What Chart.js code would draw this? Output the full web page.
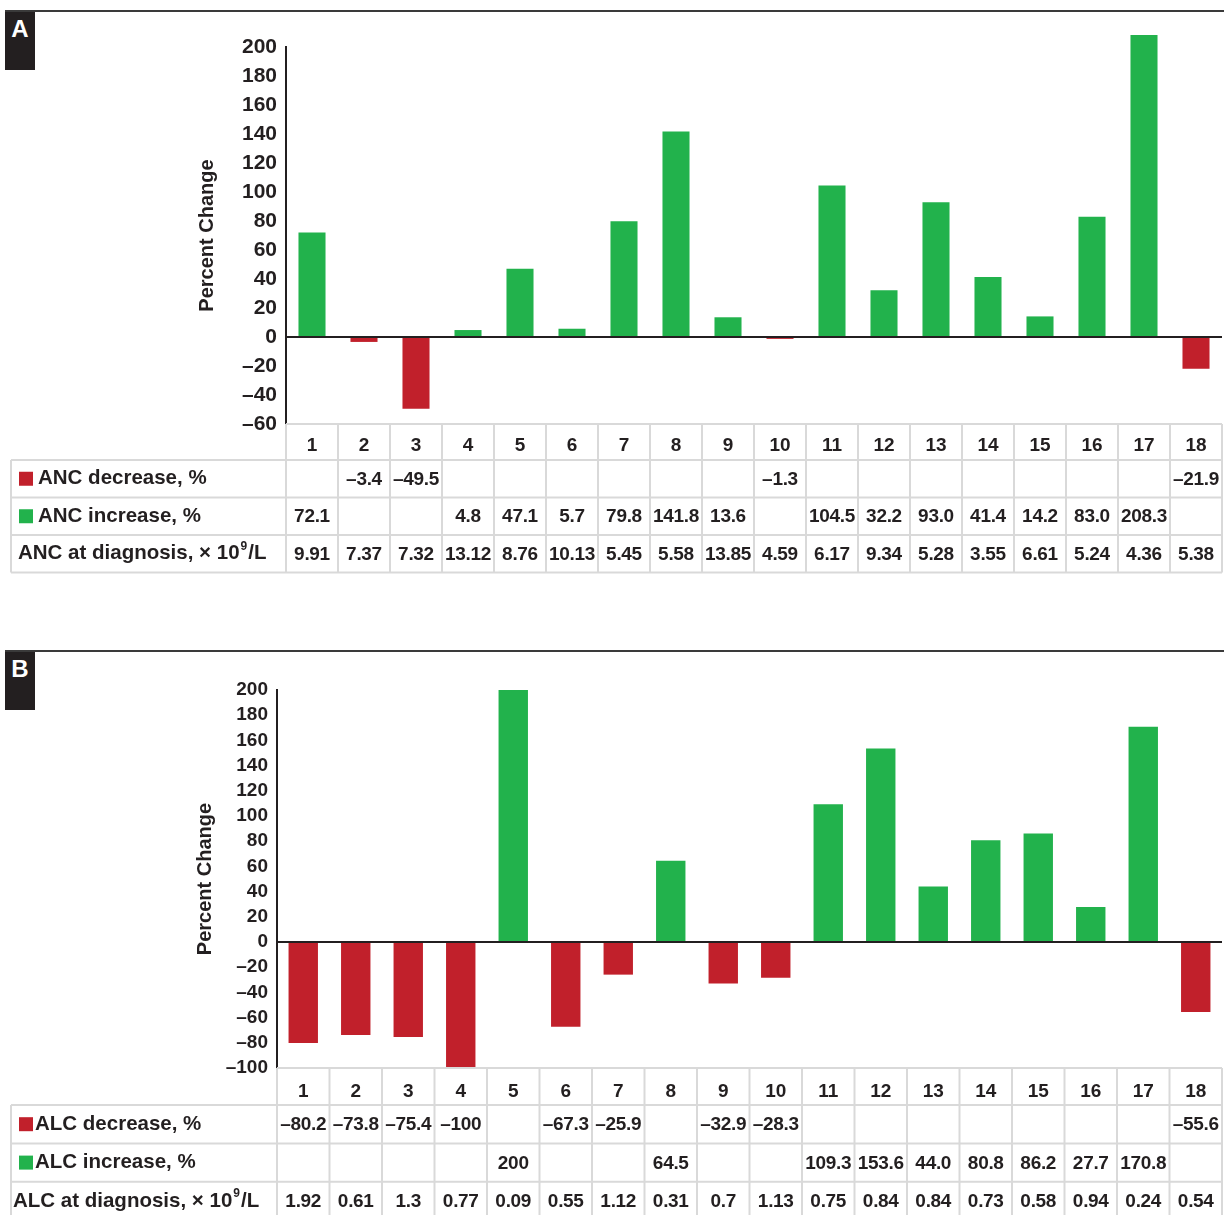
<!DOCTYPE html>
<html>
<head>
<meta charset="utf-8">
<script src="https://cdn.jsdelivr.net/npm/chart.js@4.4.1/dist/chart.umd.min.js"></script>
<style>
  body { margin: 0; background: #fff; }
  #page { position: relative; width: 1224px; height: 1215px; overflow: hidden; }
  .panel { position: absolute; left: 0; width: 1224px; }
  .panel canvas { display: block; }
  .rule { position: absolute; left: 5px; right: 0; height: 2px; background: #3a3a3a; }
  .tag { position: absolute; left: 5px; width: 30px; height: 58px; background: #231f20; color: #fff;
         font: 700 24px 'Liberation Sans', Arial, sans-serif; text-align: center; line-height: 34px; }
</style>
</head>
<body>
<div id="page">
  <div class="panel" style="top:0;height:640px"><canvas id="chartA" width="1224" height="640"></canvas></div>
  <div class="panel" style="top:640px;height:575px"><canvas id="chartB" width="1224" height="575"></canvas></div>
  <div class="rule" style="top:10px"></div>
  <div class="tag" style="top:12px">A</div>
  <div class="rule" style="top:650px"></div>
  <div class="tag" style="top:652px">B</div>
</div>

<script>
// patients 1..18
const patients = ['1', '2', '3', '4', '5', '6', '7', '8', '9', '10', '11', '12', '13', '14', '15', '16', '17', '18'];

// panel A: absolute neutrophil count
const ancDecrease = [null, -3.4, -49.5, null, null, null, null, null, null, -1.3, null, null, null, null, null, null, null, -21.9];
const ancIncrease = [72.1, null, null, 4.8, 47.1, 5.7, 79.8, 141.8, 13.6, null, 104.5, 32.2, 93.0, 41.4, 14.2, 83.0, 208.3, null];
const ancAtDiagnosis = ['9.91', '7.37', '7.32', '13.12', '8.76', '10.13', '5.45', '5.58', '13.85', '4.59', '6.17', '9.34', '5.28', '3.55', '6.61', '5.24', '4.36', '5.38'];
const rangeA = [-60, 200];

// panel B: absolute lymphocyte count
const alcDecrease = [-80.2, -73.8, -75.4, -100, null, -67.3, -25.9, null, -32.9, -28.3, null, null, null, null, null, null, null, -55.6];
const alcIncrease = [null, null, null, null, 200, null, null, 64.5, null, null, 109.3, 153.6, 44.0, 80.8, 86.2, 27.7, 170.8, null];
const alcAtDiagnosis = ['1.92', '0.61', '1.3', '0.77', '0.09', '0.55', '1.12', '0.31', '0.7', '1.13', '0.75', '0.84', '0.84', '0.73', '0.58', '0.94', '0.24', '0.54'];
const rangeB = [-100, 200];

const tickStep = 20;

const RED = '#c1202b';
const GREEN = '#22b24c';
const INK = '#231f20';
const FONT = "'Liberation Sans', Arial, sans-serif";

Chart.defaults.font.family = FONT;
Chart.defaults.font.weight = 'bold';
Chart.defaults.color = INK;

const minus = s => s.replace('-', '\u2013');

// percent cell text, e.g. 93.0, -1.3, 200, -100
function fmt(v) {
  if (v === null) return '';
  const s = Number.isInteger(v) && Math.abs(v) >= 100 ? String(v) : v.toFixed(1);
  return minus(s);
}

// draws the grid + rows under the x axis, lined up with the category scale
const dataTable = {
  id: 'dataTable',
  afterDraw(chart, args, opts) {
    const { ctx, chartArea: area, scales: { x } } = chart;
    const half = (x.getPixelForValue(1) - x.getPixelForValue(0)) / 2;
    const top = area.bottom;
    const rowsTop = top + opts.headerHeight;
    const bottom = rowsTop + opts.rows.length * opts.rowHeight;

    ctx.save();
    ctx.strokeStyle = '#d9d9d9';
    ctx.lineWidth = 2;
    ctx.beginPath();
    ctx.moveTo(area.left, top);
    ctx.lineTo(area.right, top);
    for (let r = 0; r <= opts.rows.length; r++) {
      const y = rowsTop + r * opts.rowHeight;
      ctx.moveTo(opts.left, y);
      ctx.lineTo(area.right, y);
    }
    ctx.moveTo(opts.left, rowsTop);
    ctx.lineTo(opts.left, bottom);
    x.ticks.forEach((t, i) => {
      const c = x.getPixelForValue(i);
      ctx.moveTo(c - half, top);
      ctx.lineTo(c - half, bottom);
    });
    ctx.moveTo(area.right, top);
    ctx.lineTo(area.right, bottom);
    ctx.stroke();

    ctx.fillStyle = INK;
    ctx.textBaseline = 'middle';
    const labelFont = 'bold ' + opts.labelSize + 'px ' + FONT;
    opts.rows.forEach((row, r) => {
      const cy = rowsTop + r * opts.rowHeight + opts.rowHeight / 2;

      // row label
      ctx.textAlign = 'left';
      ctx.font = labelFont;
      let lx = opts.plainX;
      if (row.swatch) {
        ctx.fillStyle = row.swatch;
        ctx.fillRect(19, cy - 7, 14, 14);
        ctx.fillStyle = INK;
        lx = opts.swatchX;
      }
      ctx.fillText(row.label, lx, cy);
      if (row.sup) {
        lx += ctx.measureText(row.label).width + 1;
        ctx.font = 'bold 12px ' + FONT;
        ctx.fillText(row.sup, lx, cy - 7);
        lx += ctx.measureText(row.sup).width + 1;
        ctx.font = labelFont;
        ctx.fillText(row.tail, lx, cy);
      }

      // cells
      ctx.textAlign = 'center';
      ctx.font = 'bold ' + opts.cellSize + 'px ' + FONT;
      ctx.letterSpacing = '-0.3px';
      row.values.forEach((v, i) => {
        if (v) ctx.fillText(v, x.getPixelForValue(i), cy + 1);
      });
      ctx.letterSpacing = '0px';
    });
    ctx.restore();
  }
};

function makeChart(id, cfg) {
  return new Chart(document.getElementById(id), {
    type: 'bar',
    data: {
      labels: patients,
      datasets: [
        { data: cfg.decrease, backgroundColor: RED },
        { data: cfg.increase, backgroundColor: GREEN }
      ].map(d => Object.assign(d, {
        grouped: false,
        clip: false,
        borderWidth: 0,
        categoryPercentage: 1,
        barPercentage: cfg.barPct
      }))
    },
    options: {
      responsive: false,
      animation: false,
      layout: { padding: cfg.padding },
      plugins: {
        legend: { display: false },
        tooltip: { enabled: false },
        dataTable: cfg.table
      },
      scales: {
        x: {
          grid: { display: false },
          border: { display: false },
          ticks: { padding: cfg.xPad, font: { size: 19 }, maxRotation: 0, autoSkip: false },
          afterFit: s => { s.height = cfg.table.headerHeight; }
        },
        y: {
          min: cfg.range[0],
          max: cfg.range[1],
          ticks: {
            stepSize: tickStep,
            autoSkip: false,
            padding: 9,
            font: { size: cfg.tickSize },
            callback: v => minus(String(v))
          },
          grid: {
            drawTicks: false,
            lineWidth: 2,
            color: c => (c.tick && c.tick.value === 0 ? INK : 'rgba(0,0,0,0)')
          },
          border: { display: true, color: INK, width: 2 },
          title: {
            display: true,
            text: 'Percent Change',
            font: { size: 20, weight: 'bold' },
            padding: { top: cfg.titleGap, bottom: 0 }
          },
          afterFit: s => { s.width = cfg.axisLeft; }
        }
      }
    },
    plugins: [dataTable]
  });
}

makeChart('chartA', {
  decrease: ancDecrease,
  increase: ancIncrease,
  range: rangeA,
  barPct: 0.52,
  tickSize: 21,
  titleGap: 195,
  axisLeft: 286,
  xPad: 2,
  padding: { top: 47, right: 2, bottom: 180, left: 0 },
  table: {
    left: 11,
    headerHeight: 36,
    rowHeight: 37.5,
    labelSize: 20.5,
    cellSize: 19,
    swatchX: 38,
    plainX: 18,
    rows: [
      { label: 'ANC decrease, %', swatch: RED, values: ancDecrease.map(fmt) },
      { label: 'ANC increase, %', swatch: GREEN, values: ancIncrease.map(fmt) },
      { label: 'ANC at diagnosis, \u00d7 10', sup: '9', tail: '/L', values: ancAtDiagnosis }
    ]
  }
});

makeChart('chartB', {
  decrease: alcDecrease,
  increase: alcIncrease,
  range: rangeB,
  barPct: 0.56,
  tickSize: 19,
  titleGap: 193,
  axisLeft: 277,
  xPad: 4,
  padding: { top: 50, right: 2, bottom: 110, left: 0 },
  table: {
    left: 11,
    headerHeight: 37,
    rowHeight: 38.4,
    labelSize: 20.5,
    cellSize: 19,
    swatchX: 35,
    plainX: 13,
    rows: [
      { label: 'ALC decrease, %', swatch: RED, values: alcDecrease.map(fmt) },
      { label: 'ALC increase, %', swatch: GREEN, values: alcIncrease.map(fmt) },
      { label: 'ALC at diagnosis, \u00d7 10', sup: '9', tail: '/L', values: alcAtDiagnosis }
    ]
  }
});
</script>
</body>
</html>
